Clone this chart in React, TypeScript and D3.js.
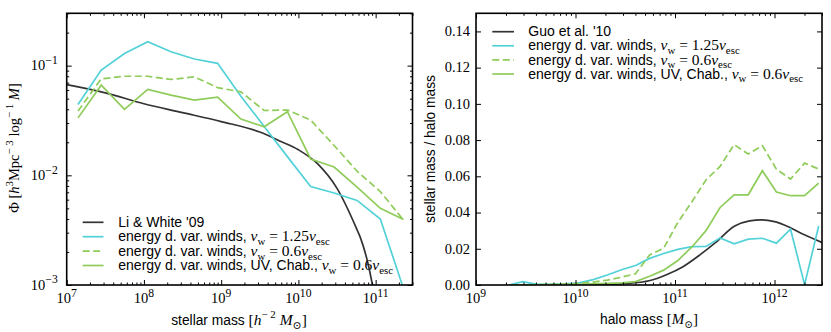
import { useEffect, useRef } from "react";
import * as d3 from "d3";

// ---- left panel: stellar mass function ----
const smBins = [1.4e7, 2.8e7, 5.6e7, 1.12e8, 2.24e8, 4.5e8, 9e8, 1.8e9, 3.6e9, 7.2e9, 1.44e10, 2.9e10, 5.75e10, 1.15e11, 2.3e11];
const smfFast = [0.0443, 0.091, 0.129, 0.165, 0.134, 0.115, 0.105, 0.0527, 0.0279, 0.0148, 0.0079, 0.0069, 0.0059, 0.004, 0.00092];
const smfSlow = [0.0385, 0.0758, 0.08, 0.08, 0.0748, 0.079, 0.063, 0.0577, 0.039, 0.0394, 0.0319, 0.0187, 0.0109, 0.0071, 0.0039];
const smfUV = [0.0334, 0.0664, 0.04, 0.0607, 0.0538, 0.0485, 0.0517, 0.0326, 0.0277, 0.038, 0.0141, 0.0119, 0.0078, 0.005, 0.00395];
const liWhiteLogM = [7.0, 7.5, 8.0, 8.5, 9.0, 9.5, 9.75, 10.0, 10.25, 10.5, 10.75, 10.8, 10.9, 11.0];
const liWhitePhi = [0.0671, 0.0565, 0.0449, 0.0373, 0.0309, 0.0248, 0.0207, 0.0171, 0.0127, 0.0076, 0.0033, 0.00273, 0.00158, 0.0007];
const smfXTicks = [7, 8, 9, 10, 11];
const smfYTicks = [-3, -2, -1];

// ---- right panel: stellar-to-halo mass ratio ----
const haloLogM = [9.329, 9.47, 9.612, 9.754, 9.895, 10.037, 10.178, 10.32, 10.462, 10.603, 10.745, 10.886, 11.028, 11.17, 11.311, 11.453, 11.594, 11.736, 11.878, 12.019, 12.161, 12.302, 12.444];
const ratioFast = [0.0, 0.0018, 0.0003, 0.0004, 0.0006, 0.0012, 0.003, 0.0055, 0.0084, 0.0108, 0.0147, 0.0174, 0.0197, 0.0212, 0.0213, 0.026, 0.0227, 0.0253, 0.0258, 0.0231, 0.0308, 0.0002, 0.0326];
const ratioSlow = [0.0, 0.0001, 0.0002, 0.0003, 0.0005, 0.0009, 0.0016, 0.0027, 0.0043, 0.0062, 0.0166, 0.0203, 0.0345, 0.046, 0.058, 0.0655, 0.0775, 0.0723, 0.0769, 0.064, 0.0585, 0.0673, 0.064];
const ratioUV = [0.0, 0.0001, 0.0001, 0.0002, 0.0003, 0.0004, 0.0006, 0.0009, 0.0012, 0.0019, 0.0048, 0.0082, 0.0135, 0.021, 0.03, 0.0428, 0.0498, 0.0498, 0.0631, 0.0513, 0.0493, 0.0493, 0.0563];
const guoLogM = [9.5, 10.0, 10.25, 10.5, 10.75, 10.92, 11.08, 11.25, 11.4, 11.6, 11.75, 11.87, 12.0, 12.15, 12.3, 12.48];
const guoRatio = [0.0, 0.0001, 0.0003, 0.0008, 0.0025, 0.0058, 0.0101, 0.0166, 0.0231, 0.0326, 0.0354, 0.036, 0.035, 0.0319, 0.0277, 0.0234];
const haloXTicks = [9, 10, 11, 12];
const ratioYTicks = [0, 0.02, 0.04, 0.06, 0.08, 0.1, 0.12, 0.14];

const BLACK = "#333333";
const CYAN = "#52d2d8";
const GREEN = "#8fcc5a";
const SANS = "'Liberation Sans', Arial, Helvetica, sans-serif";
const SERIF = "'Liberation Serif', 'DejaVu Serif', serif";

type Seg = { t: string; f?: "sans" | "rm" | "it"; s?: "sup" | "sub" };

// sans segments use sansSize, math (serif) segments use mathSize
function rich(text: any, segs: Seg[], sansSize: number, mathSize: number, scriptScale = 0.75) {
  let cur = 0;
  segs.forEach((seg) => {
    const base = seg.f === "sans" ? sansSize : mathSize;
    const target = seg.s === "sup" ? -0.42 * base : seg.s === "sub" ? 0.25 * base : 0;
    text
      .append("tspan")
      .attr("dy", target - cur)
      .attr("font-family", seg.f === "sans" ? SANS : SERIF)
      .attr("font-style", seg.f === "it" ? "italic" : "normal")
      .attr("font-size", seg.s ? base * scriptScale : base)
      .text(seg.t);
    cur = target;
  });
}

const vw = (v: string): Seg[] => [
  { t: "v", f: "it" },
  { t: "w", f: "rm", s: "sub" },
  { t: " = " + v, f: "rm" },
  { t: "v", f: "it" },
  { t: "esc", f: "rm", s: "sub" },
];

const legendItems: { color: string; dash?: string; segs: Seg[] }[] = [
  { color: CYAN, segs: [{ t: "energy d. var. winds, ", f: "sans" }, ...vw("1.25")] },
  { color: GREEN, dash: "7,3.5", segs: [{ t: "energy d. var. winds, ", f: "sans" }, ...vw("0.6")] },
  { color: GREEN, segs: [{ t: "energy d. var. winds, UV, Chab., ", f: "sans" }, ...vw("0.6")] },
];

function ticks(g: any, x: any, y: any, box: any, xMaj: number[], xMin: number[], yMaj: number[], yMin: number[]) {
  const mk = (axis: any, vals: number[], size: number, tr: string) => {
    const a = g
      .append("g")
      .attr("transform", tr)
      .call(axis.tickValues(vals).tickSizeInner(-size).tickSizeOuter(0).tickFormat(() => ""));
    a.select(".domain").remove();
    a.selectAll("line").attr("stroke", "#000").attr("stroke-width", 1);
  };
  mk(d3.axisBottom(x), xMaj, 5, `translate(0,${box.y1})`);
  mk(d3.axisTop(x), xMaj, 5, `translate(0,${box.y0})`);
  mk(d3.axisBottom(x), xMin, 2.5, `translate(0,${box.y1})`);
  mk(d3.axisTop(x), xMin, 2.5, `translate(0,${box.y0})`);
  mk(d3.axisLeft(y), yMaj, 5, `translate(${box.x0},0)`);
  mk(d3.axisRight(y), yMaj, 5, `translate(${box.x1},0)`);
  if (yMin.length) {
    mk(d3.axisLeft(y), yMin, 2.5, `translate(${box.x0},0)`);
    mk(d3.axisRight(y), yMin, 2.5, `translate(${box.x1},0)`);
  }
}

function minorLog(lo: number, hi: number) {
  const out: number[] = [];
  for (let e = Math.floor(Math.log10(lo)); e <= Math.ceil(Math.log10(hi)); e++) {
    for (let k = 2; k <= 9; k++) {
      const v = k * Math.pow(10, e);
      if (v > lo && v < hi * 1.0001) out.push(v);
    }
  }
  return out;
}

function drawLeft(svg: any) {
  const box = { x0: 66.7, x1: 412.5, y0: 13.3, y1: 285 };
  const x = d3.scaleLog().domain([1e7, 3e11]).range([box.x0, box.x1]);
  const y = d3.scaleLog().domain([1e-3, 0.3]).range([box.y1, box.y0]);
  const g = svg.append("g");

  g.append("clipPath").attr("id", "clipL").append("rect")
    .attr("x", box.x0).attr("y", box.y0).attr("width", box.x1 - box.x0).attr("height", box.y1 - box.y0);
  const plot = g.append("g").attr("clip-path", "url(#clipL)");

  const line = d3.line<[number, number]>().x((d) => x(d[0])).y((d) => y(d[1]));
  const smooth = d3.line<[number, number]>().x((d) => x(d[0])).y((d) => y(d[1])).curve(d3.curveMonotoneX);

  plot.append("path")
    .attr("d", smooth(liWhiteLogM.map((m, i) => [Math.pow(10, m), liWhitePhi[i]] as [number, number])))
    .attr("fill", "none").attr("stroke", BLACK).attr("stroke-width", 1.7);
  const series: [number[], string, string | null][] = [
    [smfFast, CYAN, null],
    [smfSlow, GREEN, "7,3.5"],
    [smfUV, GREEN, null],
  ];
  series.forEach(([vals, c, dash]) => {
    plot.append("path")
      .attr("d", line(smBins.map((m, i) => [m, vals[i]] as [number, number])))
      .attr("fill", "none").attr("stroke", c).attr("stroke-width", 1.7)
      .attr("stroke-dasharray", dash);
  });

  g.append("rect").attr("x", box.x0).attr("y", box.y0).attr("width", box.x1 - box.x0).attr("height", box.y1 - box.y0)
    .attr("fill", "none").attr("stroke", "#000").attr("stroke-width", 1.6);

  ticks(g, x, y, box, smfXTicks.map((e) => Math.pow(10, e)), minorLog(1e7, 3e11),
    smfYTicks.map((e) => Math.pow(10, e)), minorLog(1e-3, 0.3));

  smfXTicks.forEach((e) => {
    const t = g.append("text").attr("x", x(Math.pow(10, e))).attr("y", box.y1 + 18).attr("text-anchor", "middle");
    rich(t, [{ t: "10", f: "rm" }, { t: String(e), f: "rm", s: "sup" }], 14.5, 14.5, 0.8);
  });
  smfYTicks.forEach((e) => {
    const t = g.append("text").attr("x", box.x0 - 9).attr("y", y(Math.pow(10, e)) + 4.5).attr("text-anchor", "end");
    rich(t, [{ t: "10", f: "rm" }, { t: "\u2212" + String(-e), f: "rm", s: "sup" }], 14.5, 14.5, 0.8);
  });

  const xl = g.append("text").attr("x", 239).attr("y", 325).attr("text-anchor", "middle");
  rich(xl, [
    { t: "stellar mass ", f: "sans" }, { t: "[", f: "rm" }, { t: "h", f: "it" }, { t: "\u2212 2", f: "rm", s: "sup" },
    { t: " M", f: "it" }, { t: "\u2299", f: "rm", s: "sub" }, { t: "]", f: "rm" },
  ], 13.8, 15.5, 0.7);
  const yl = g.append("text").attr("transform", "translate(19,148) rotate(-90)").attr("text-anchor", "middle");
  rich(yl, [
    { t: "\u03A6 [", f: "rm" }, { t: "h", f: "it" }, { t: "3", f: "rm", s: "sup" }, { t: "Mpc", f: "rm" },
    { t: "\u2212 3", f: "rm", s: "sup" }, { t: " log", f: "rm" }, { t: "\u2212 1", f: "rm", s: "sup" },
    { t: " M", f: "it" }, { t: "]", f: "rm" },
  ], 14, 14.5);

  const items = [{ color: BLACK, segs: [{ t: "Li & White '09", f: "sans" }] as Seg[] }, ...legendItems];
  items.forEach((it: any, i) => {
    const ly = 222.3 + i * 14.4;
    g.append("line").attr("x1", 82.7).attr("x2", 103.5).attr("y1", ly).attr("y2", ly)
      .attr("stroke", it.color).attr("stroke-width", 1.7).attr("stroke-dasharray", it.dash || null);
    const t = g.append("text").attr("x", 118.3).attr("y", ly + 4.6);
    rich(t, it.segs, 14, 15.5, 0.7);
  });
}

function drawRight(svg: any) {
  const box = { x0: 476, x1: 822, y0: 13.3, y1: 285 };
  const x = d3.scaleLog().domain([1e9, 3e12]).range([box.x0, box.x1]);
  const y = d3.scaleLinear().domain([0, 0.15]).range([box.y1, box.y0]);
  const g = svg.append("g");

  g.append("clipPath").attr("id", "clipR").append("rect")
    .attr("x", box.x0).attr("y", box.y0).attr("width", box.x1 - box.x0).attr("height", box.y1 - box.y0);
  const plot = g.append("g").attr("clip-path", "url(#clipR)");

  const line = d3.line<[number, number]>().x((d) => x(d[0])).y((d) => y(d[1]));
  const smooth = d3.line<[number, number]>().x((d) => x(d[0])).y((d) => y(d[1])).curve(d3.curveMonotoneX);

  plot.append("path")
    .attr("d", smooth(guoLogM.map((m, i) => [Math.pow(10, m), guoRatio[i]] as [number, number])))
    .attr("fill", "none").attr("stroke", BLACK).attr("stroke-width", 1.7);
  const series: [number[], string, string | null][] = [
    [ratioFast, CYAN, null],
    [ratioSlow, GREEN, "7,3.5"],
    [ratioUV, GREEN, null],
  ];
  series.forEach(([vals, c, dash]) => {
    plot.append("path")
      .attr("d", line(haloLogM.map((m, i) => [Math.pow(10, m), vals[i]] as [number, number])))
      .attr("fill", "none").attr("stroke", c).attr("stroke-width", 1.7)
      .attr("stroke-dasharray", dash);
  });

  g.append("rect").attr("x", box.x0).attr("y", box.y0).attr("width", box.x1 - box.x0).attr("height", box.y1 - box.y0)
    .attr("fill", "none").attr("stroke", "#000").attr("stroke-width", 1.6);

  ticks(g, x, y, box, haloXTicks.map((e) => Math.pow(10, e)), minorLog(1e9, 3e12), ratioYTicks, []);

  haloXTicks.forEach((e) => {
    const t = g.append("text").attr("x", x(Math.pow(10, e))).attr("y", box.y1 + 18).attr("text-anchor", "middle");
    rich(t, [{ t: "10", f: "rm" }, { t: String(e), f: "rm", s: "sup" }], 14.5, 14.5, 0.8);
  });
  ratioYTicks.forEach((v) => {
    const t = g.append("text").attr("x", box.x0 - 6).attr("y", y(v) + 4.8).attr("text-anchor", "end");
    rich(t, [{ t: v.toFixed(2), f: "rm" }], 14.5, 14.5);
  });

  const xl = g.append("text").attr("x", 649).attr("y", 324).attr("text-anchor", "middle");
  rich(xl, [{ t: "halo mass ", f: "sans" }, { t: "[", f: "rm" }, { t: "M", f: "it" }, { t: "\u2299", f: "rm", s: "sub" }, { t: "]", f: "rm" }], 13.8, 15, 0.7);
  g.append("text").attr("transform", "translate(435,149) rotate(-90)").attr("text-anchor", "middle")
    .attr("font-family", SANS).attr("font-size", 13.8).text("stellar mass / halo mass");

  const items = [{ color: BLACK, segs: [{ t: "Guo et al. '10", f: "sans" }] as Seg[] }, ...legendItems];
  items.forEach((it: any, i) => {
    const ly = 31.7 + i * 14.1;
    g.append("line").attr("x1", 492.3).attr("x2", 514).attr("y1", ly).attr("y2", ly)
      .attr("stroke", it.color).attr("stroke-width", 1.7).attr("stroke-dasharray", it.dash || null);
    const t = g.append("text").attr("x", 528.3).attr("y", ly + 4.6);
    rich(t, it.segs, 14, 15.5, 0.7);
  });
}

export default function App() {
  const ref = useRef<SVGSVGElement>(null);
  useEffect(() => {
    if (!ref.current) return;
    const svg = d3.select(ref.current);
    svg.selectAll("*").remove();
    drawLeft(svg);
    drawRight(svg);
  }, []);
  return (
    <svg
      ref={ref}
      width={831}
      height={332}
      style={{ position: "absolute", left: 0, top: 0, background: "#fff" }}
    />
  );
}
